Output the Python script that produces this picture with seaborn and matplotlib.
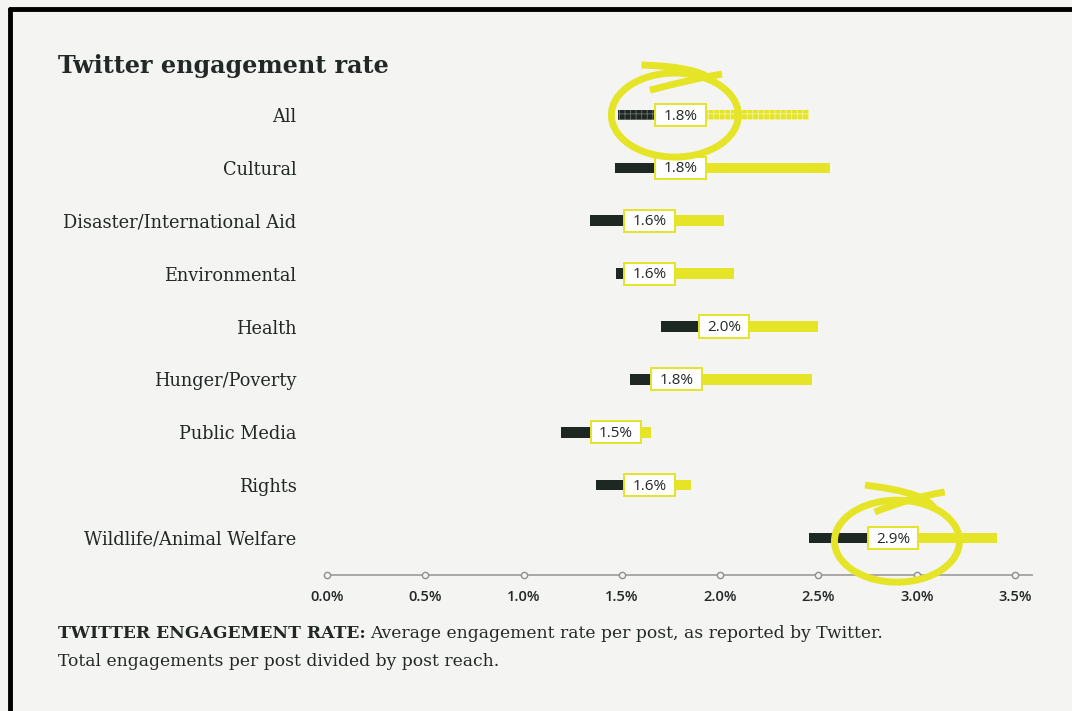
"""Twitter engagement rate by cause category: low-to-median-to-high range bars."""
import matplotlib.pyplot as plt
from matplotlib.patches import Ellipse, Rectangle, PathPatch
from matplotlib.path import Path
from matplotlib.lines import Line2D
import numpy as np
import pandas as pd
import seaborn as sns

categories = [
    "All",
    "Cultural",
    "Disaster/International Aid",
    "Environmental",
    "Health",
    "Hunger/Poverty",
    "Public Media",
    "Rights",
    "Wildlife/Animal Welfare",
]
low = [1.48, 1.465, 1.34, 1.47, 1.70, 1.54, 1.19, 1.37, 2.45]
median = [1.8, 1.8, 1.64, 1.64, 2.02, 1.78, 1.47, 1.64, 2.88]
high = [2.45, 2.56, 2.02, 2.07, 2.50, 2.47, 1.65, 1.85, 3.41]
median_labels = ["1.8%", "1.8%", "1.6%", "1.6%", "2.0%", "1.8%", "1.5%", "1.6%", "2.9%"]
xticks = [0.0, 0.5, 1.0, 1.5, 2.0, 2.5, 3.0, 3.5]
highlighted = ["All", "Wildlife/Animal Welfare"]

BG = "#f4f4f3"
DARK = "#1e2823"
YELLOW = "#e5e427"
TEXT = "#222826"

sns.set_theme(style="white")
plt.rcParams.update({
    "figure.facecolor": BG,
    "axes.facecolor": BG,
    "hatch.linewidth": 0.6,
})

df = pd.DataFrame({"category": categories, "low": low, "median": median,
                   "high": high, "label": median_labels})

fig = plt.figure(figsize=(10.72, 7.11), dpi=100)
ax = fig.add_axes([0.305, 0.1913, 0.9627 - 0.305, 0.675])

ypos = np.arange(len(df))
bar_h = 0.2
for i, row in df.iterrows():
    patterned = row["category"] == "All"
    ax.barh(i, row["median"] - row["low"], left=row["low"], height=bar_h,
            color=DARK, linewidth=0,
            edgecolor="#6b716e" if patterned else DARK,
            hatch="+++" if patterned else None)
    ax.barh(i, row["high"] - row["median"], left=row["median"], height=bar_h,
            color=YELLOW, linewidth=0,
            edgecolor="#f3f2a8" if patterned else YELLOW,
            hatch="+++" if patterned else None)
    box_w, box_h = 0.258, 0.42
    ax.add_patch(Rectangle((row["median"] - box_w / 2, i - box_h / 2), box_w, box_h,
                           facecolor="white", edgecolor=YELLOW, lw=1.4, zorder=4))
    ax.text(row["median"], i + 0.02, row["label"], ha="center", va="center",
            fontsize=11, family="Open Sans", color=TEXT, zorder=5)

# hand-drawn highlight loops around selected rows (offsets from the median)
loops = {
    "All": dict(c=(-0.03, 0.0), w=0.646, h=1.59,
                strokes=[([-0.20, 0.045, 0.173], [-0.945, -0.85, -0.62]),
                         ([0.21, 0.05, -0.157], [-0.775, -0.66, -0.47])]),
    "Wildlife/Animal Welfare": dict(c=(0.02, 0.06), w=0.636, h=1.55,
                strokes=[([-0.143, 0.11, 0.213], [-1.0, -0.81, -0.53]),
                         ([-0.093, 0.085, 0.263], [-0.49, -0.72, -0.87])]),
}
for cat in highlighted:
    i = categories.index(cat)
    m = median[i]
    spec = loops[cat]
    ax.add_patch(Ellipse((m + spec["c"][0], i + spec["c"][1]), spec["w"], spec["h"],
                         fill=False, edgecolor=YELLOW, lw=5, zorder=6, clip_on=False))
    for dx, dy in spec["strokes"]:
        p0 = np.array([m + dx[0], i + dy[0]])
        pm = np.array([m + dx[1], i + dy[1]])
        p1 = np.array([m + dx[2], i + dy[2]])
        ctrl = 2 * pm - (p0 + p1) / 2
        path = Path([p0, ctrl, p1], [Path.MOVETO, Path.CURVE3, Path.CURVE3])
        ax.add_patch(PathPatch(path, fill=False, edgecolor=YELLOW, lw=5, zorder=6,
                               clip_on=False, capstyle="butt"))

ax.set_xlim(0, 3.587)
ax.set_ylim(8.70, -0.378)
ax.set_yticks(ypos)
ax.set_yticklabels(categories, family="DejaVu Serif", fontsize=12.8, color=TEXT)
ax.set_xticks(xticks)
ax.set_xticklabels([f"{t:.1f}%" for t in xticks], family="Open Sans",
                   fontsize=10.5, color=TEXT, fontweight="semibold")
ax.tick_params(axis="y", length=0, pad=22)
ax.tick_params(axis="x", length=0, pad=11)
sns.despine(ax=ax, left=True, top=True, right=True)
ax.spines["bottom"].set_color("#a3a3a3")
ax.spines["bottom"].set_linewidth(1.3)
ax.plot(xticks, [0] * len(xticks), "o", ms=4.5, mfc=BG, mec="#8f8f8f", mew=1,
        transform=ax.get_xaxis_transform(), clip_on=False, zorder=5)

fig.text(58 / 1072, 1 - 66 / 711, "Twitter engagement rate", family="DejaVu Serif",
         fontweight="bold", fontsize=17.2, color=TEXT, va="center")

lead = fig.text(58 / 1072, 1 - 633 / 711, "TWITTER ENGAGEMENT RATE:", family="DejaVu Serif",
                fontweight="bold", fontsize=12.3, color=TEXT, va="center")
renderer = fig.canvas.get_renderer()
bb = lead.get_window_extent(renderer).transformed(fig.transFigure.inverted())
fig.text(bb.x1 + 0.004, 1 - 633 / 711,
         "Average engagement rate per post, as reported by Twitter.",
         family="DejaVu Serif", fontsize=12.3, color=TEXT, va="center")
fig.text(58 / 1072, 1 - 661 / 711, "Total engagements per post divided by post reach.",
         family="DejaVu Serif", fontsize=12.3, color=TEXT, va="center")

# page frame
fig.add_artist(Line2D([10 / 1072, 10 / 1072], [0, 1 - 9 / 711], color="black", lw=3.5,
                      transform=fig.transFigure))
fig.add_artist(Line2D([10 / 1072, 1], [1 - 9 / 711, 1 - 9 / 711], color="black", lw=3.5,
                      transform=fig.transFigure))

fig.savefig("out.png", dpi=100, facecolor=BG)
